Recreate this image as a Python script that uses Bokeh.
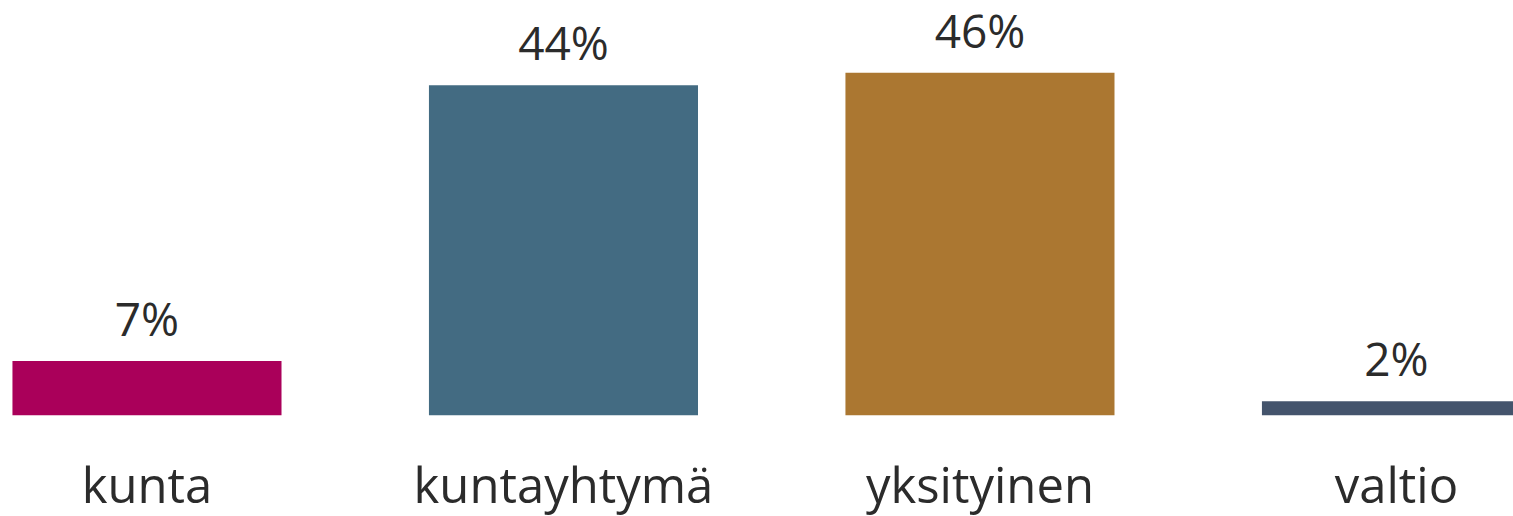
from bokeh.plotting import figure
from bokeh.models import ColumnDataSource, Range1d, FixedTicker, LabelSet
from bokeh.core.properties import value
from bokeh.embed import file_html
from bokeh.resources import INLINE

categories = ["kunta", "kuntayhtymä", "yksityinen", "valtio"]
values = [7.3, 44.2, 45.9, 1.9]
colors = ["#AA005A", "#436B82", "#AB7731", "#44546C"]
value_labels = [f"{round(v)}%" for v in values]

xs = list(range(len(categories)))
src = ColumnDataSource(dict(x=xs, top=values, color=colors, label=value_labels))

p = figure(frame_width=1513, frame_height=415, output_backend="svg", toolbar_location=None,
           x_range=Range1d(-0.3517, 3.281), y_range=Range1d(0, 55.56),
           min_border_left=0, min_border_right=0, min_border_top=0, min_border_bottom=0)
p.outline_line_color = None
p.xgrid.visible = False
p.ygrid.visible = False
p.yaxis.visible = False

p.vbar(x="x", top="top", bottom=0, width=0.646, color="color", line_color=None, source=src)

labels = LabelSet(x="x", y="top", text="label", source=src, y_offset=25,
                  text_align="center", text_baseline="alphabetic",
                  text_font=value("Open Sans"), text_font_size="46px", text_color="#2b2b2b")
p.add_layout(labels)

ax = p.xaxis[0]
ax.ticker = FixedTicker(ticks=xs)
ax.major_label_overrides = {i: c for i, c in enumerate(categories)}
ax.axis_line_color = None
ax.major_tick_line_color = None
ax.minor_tick_line_color = None
ax.major_tick_out = 0
ax.major_tick_in = 0
ax.major_label_standoff = 35
ax.major_label_text_font = "Open Sans"
ax.major_label_text_font_size = "49px"
ax.major_label_text_color = "#2b2b2b"

open("out.html", "w").write(file_html(p, INLINE))
